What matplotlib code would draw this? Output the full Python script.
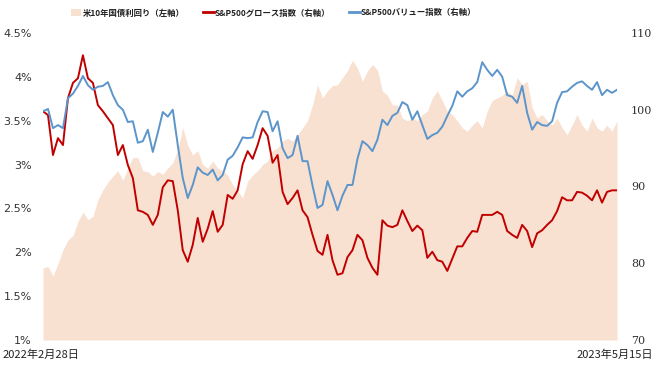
import matplotlib
matplotlib.use("Agg")
import matplotlib.pyplot as plt
import matplotlib.ticker as mticker
from matplotlib.patches import Patch
from matplotlib.lines import Line2D
import pandas as pd

plt.rcParams["font.family"] = ["Noto Sans CJK JP", "DejaVu Sans"]

START, END = "2022-02-28", "2023-05-15"

# US 10y yield (%, left axis)
yield_10y = [
    1.82, 1.84, 1.73, 1.87, 2.03, 2.14, 2.19, 2.35, 2.46, 2.37,
    2.41, 2.60, 2.71, 2.80, 2.87, 2.93, 2.82, 2.96, 3.08, 3.08,
    2.93, 2.92, 2.87, 2.92, 2.89, 2.96, 3.02, 3.17, 3.42, 3.22,
    3.11, 3.16, 3.00, 2.96, 3.04, 2.96, 2.93, 2.88, 2.77, 2.70,
    2.62, 2.81, 2.88, 2.93, 3.00, 3.04, 3.16, 3.19, 3.27, 3.30,
    3.27, 3.34, 3.42, 3.50, 3.68, 3.91, 3.76, 3.84, 3.90, 3.91,
    3.99, 4.07, 4.19, 4.10, 3.95, 4.07, 4.14, 4.08, 3.84, 3.79,
    3.68, 3.68, 3.53, 3.50, 3.53, 3.50, 3.57, 3.61, 3.76, 3.84,
    3.73, 3.61, 3.57, 3.50, 3.42, 3.38, 3.45, 3.50, 3.42, 3.61,
    3.73, 3.76, 3.79, 3.84, 3.79, 3.99, 3.91, 3.95, 3.65, 3.53,
    3.57, 3.50, 3.45, 3.53, 3.42, 3.34, 3.45, 3.57, 3.45, 3.38,
    3.53, 3.42, 3.38, 3.45, 3.38, 3.50,
]

# S&P500 growth index (right axis)
growth = [
    99.8, 99.3, 94.1, 96.3, 95.4, 101.5, 103.5, 104.1, 107.1, 104.1,
    103.5, 100.6, 99.8, 98.9, 98.0, 94.1, 95.4, 92.8, 91.1, 86.9,
    86.7, 86.3, 85.0, 86.3, 89.9, 90.8, 90.7, 86.9, 81.7, 80.2,
    82.4, 85.9, 82.8, 84.5, 86.8, 84.1, 85.0, 88.9, 88.4, 89.5,
    92.9, 94.6, 93.6, 95.4, 97.6, 96.6, 93.1, 94.1, 89.3, 87.7,
    88.5, 89.5, 86.9, 86.0, 83.7, 81.6, 81.1, 83.7, 80.4, 78.5,
    78.7, 80.8, 81.7, 83.7, 83.0, 80.7, 79.4, 78.5, 85.6, 84.9,
    84.7, 85.0, 86.9, 85.5, 84.2, 84.9, 84.3, 80.7, 81.5, 80.4,
    80.2, 79.0, 80.6, 82.2, 82.2, 83.3, 84.2, 84.1, 86.3, 86.3,
    86.3, 86.7, 86.3, 84.2, 83.7, 83.3, 85.0, 84.2, 82.1, 83.9,
    84.3, 85.0, 85.6, 86.8, 88.6, 88.2, 88.2, 89.3, 89.2, 88.8,
    88.2, 89.5, 87.9, 89.3, 89.5, 89.5,
]

# S&P500 value index (right axis)
value = [
    99.8, 100.1, 97.6, 98.0, 97.6, 101.5, 102.1, 103.1, 104.4, 103.2,
    102.6, 103.0, 103.1, 103.6, 101.9, 100.6, 100.0, 98.4, 98.5, 95.7,
    95.9, 97.4, 94.5, 97.0, 99.7, 99.1, 100.0, 95.4, 91.1, 88.5,
    90.2, 92.5, 91.8, 91.5, 92.2, 90.8, 91.5, 93.5, 94.0, 95.1,
    96.4, 96.3, 96.4, 98.4, 99.8, 99.7, 97.2, 98.5, 95.0, 93.7,
    94.1, 96.6, 93.3, 93.3, 90.1, 87.2, 87.6, 90.7, 88.9, 86.9,
    88.8, 90.2, 90.2, 93.6, 95.9, 95.4, 94.6, 96.1, 98.7, 98.0,
    99.2, 99.6, 101.0, 100.6, 98.7, 99.8, 98.0, 96.2, 96.7, 97.0,
    97.8, 99.2, 100.5, 102.4, 101.7, 102.4, 102.8, 103.6, 106.2, 105.2,
    104.4, 105.2, 104.3, 101.9, 101.7, 100.9, 103.1, 99.6, 97.4, 98.4,
    98.0, 97.9, 98.5, 100.9, 102.3, 102.4, 103.0, 103.5, 103.7, 103.1,
    102.6, 103.6, 101.9, 102.6, 102.2, 102.6,
]

labels = ["米10年国債利回り（左軸）", "S&P500グロース指数（右軸）", "S&P500バリュー指数（右軸）"]
left_ticks = [1, 1.5, 2, 2.5, 3, 3.5, 4, 4.5]
right_ticks = [70, 80, 90, 100, 110]

FILL = "#F9E1D2"
RED = "#C00000"
BLUE = "#5B95CB"

dates = pd.date_range(START, END, periods=len(yield_10y))

fig = plt.figure(figsize=(6.6, 3.71), dpi=100)
ax = fig.add_axes([43 / 660, 1 - 340 / 371, 574 / 660, 307 / 371])
ax2 = ax.twinx()

ax.fill_between(dates, 1, yield_10y, color=FILL, linewidth=0)
ax2.plot(dates, growth, color=RED, lw=1.4)
ax2.plot(dates, value, color=BLUE, lw=1.4)

ax.set_xlim(dates[0], dates[-1])
ax.set_ylim(1, 4.5)
ax2.set_ylim(70, 110)
ax.set_yticks(left_ticks)
ax.yaxis.set_major_formatter(mticker.FuncFormatter(lambda v, _: f"{v:g}%"))
ax2.set_yticks(right_ticks)
ax.set_xticks([])

for a in (ax, ax2):
    for s in a.spines.values():
        s.set_visible(False)
    a.tick_params(length=0, labelsize=8, labelcolor="#333333")
ax.tick_params(axis="y", pad=8)
ax2.tick_params(axis="y", pad=10)
for t in ax.get_yticklabels():
    t.set_fontfamily("DejaVu Sans")
for t in ax2.get_yticklabels():
    t.set_fontfamily("DejaVu Serif")

fig.text(3 / 660, 1 - 355 / 371, dates[0].strftime("%Y年%-m月%-d日"),
         ha="left", va="center", fontsize=8, color="#222222")
fig.text(653 / 660, 1 - 355 / 371, dates[-1].strftime("%Y年%-m月%-d日"),
         ha="right", va="center", fontsize=8, color="#222222")

handles = [
    Patch(facecolor=FILL, edgecolor="none"),
    Line2D([], [], color=RED, lw=2),
    Line2D([], [], color=BLUE, lw=2),
]
leg = fig.legend(handles, labels, loc="center left", bbox_to_anchor=(63 / 660, 1 - 13 / 371),
                 ncol=3, frameon=False, handlelength=1.3, handleheight=1.0,
                 handletextpad=0.15, columnspacing=2.2,
                 prop={"size": 6.0, "weight": "bold"})
for t in leg.get_texts():
    t.set_color("#222222")

fig.savefig("out.png", dpi=100)
